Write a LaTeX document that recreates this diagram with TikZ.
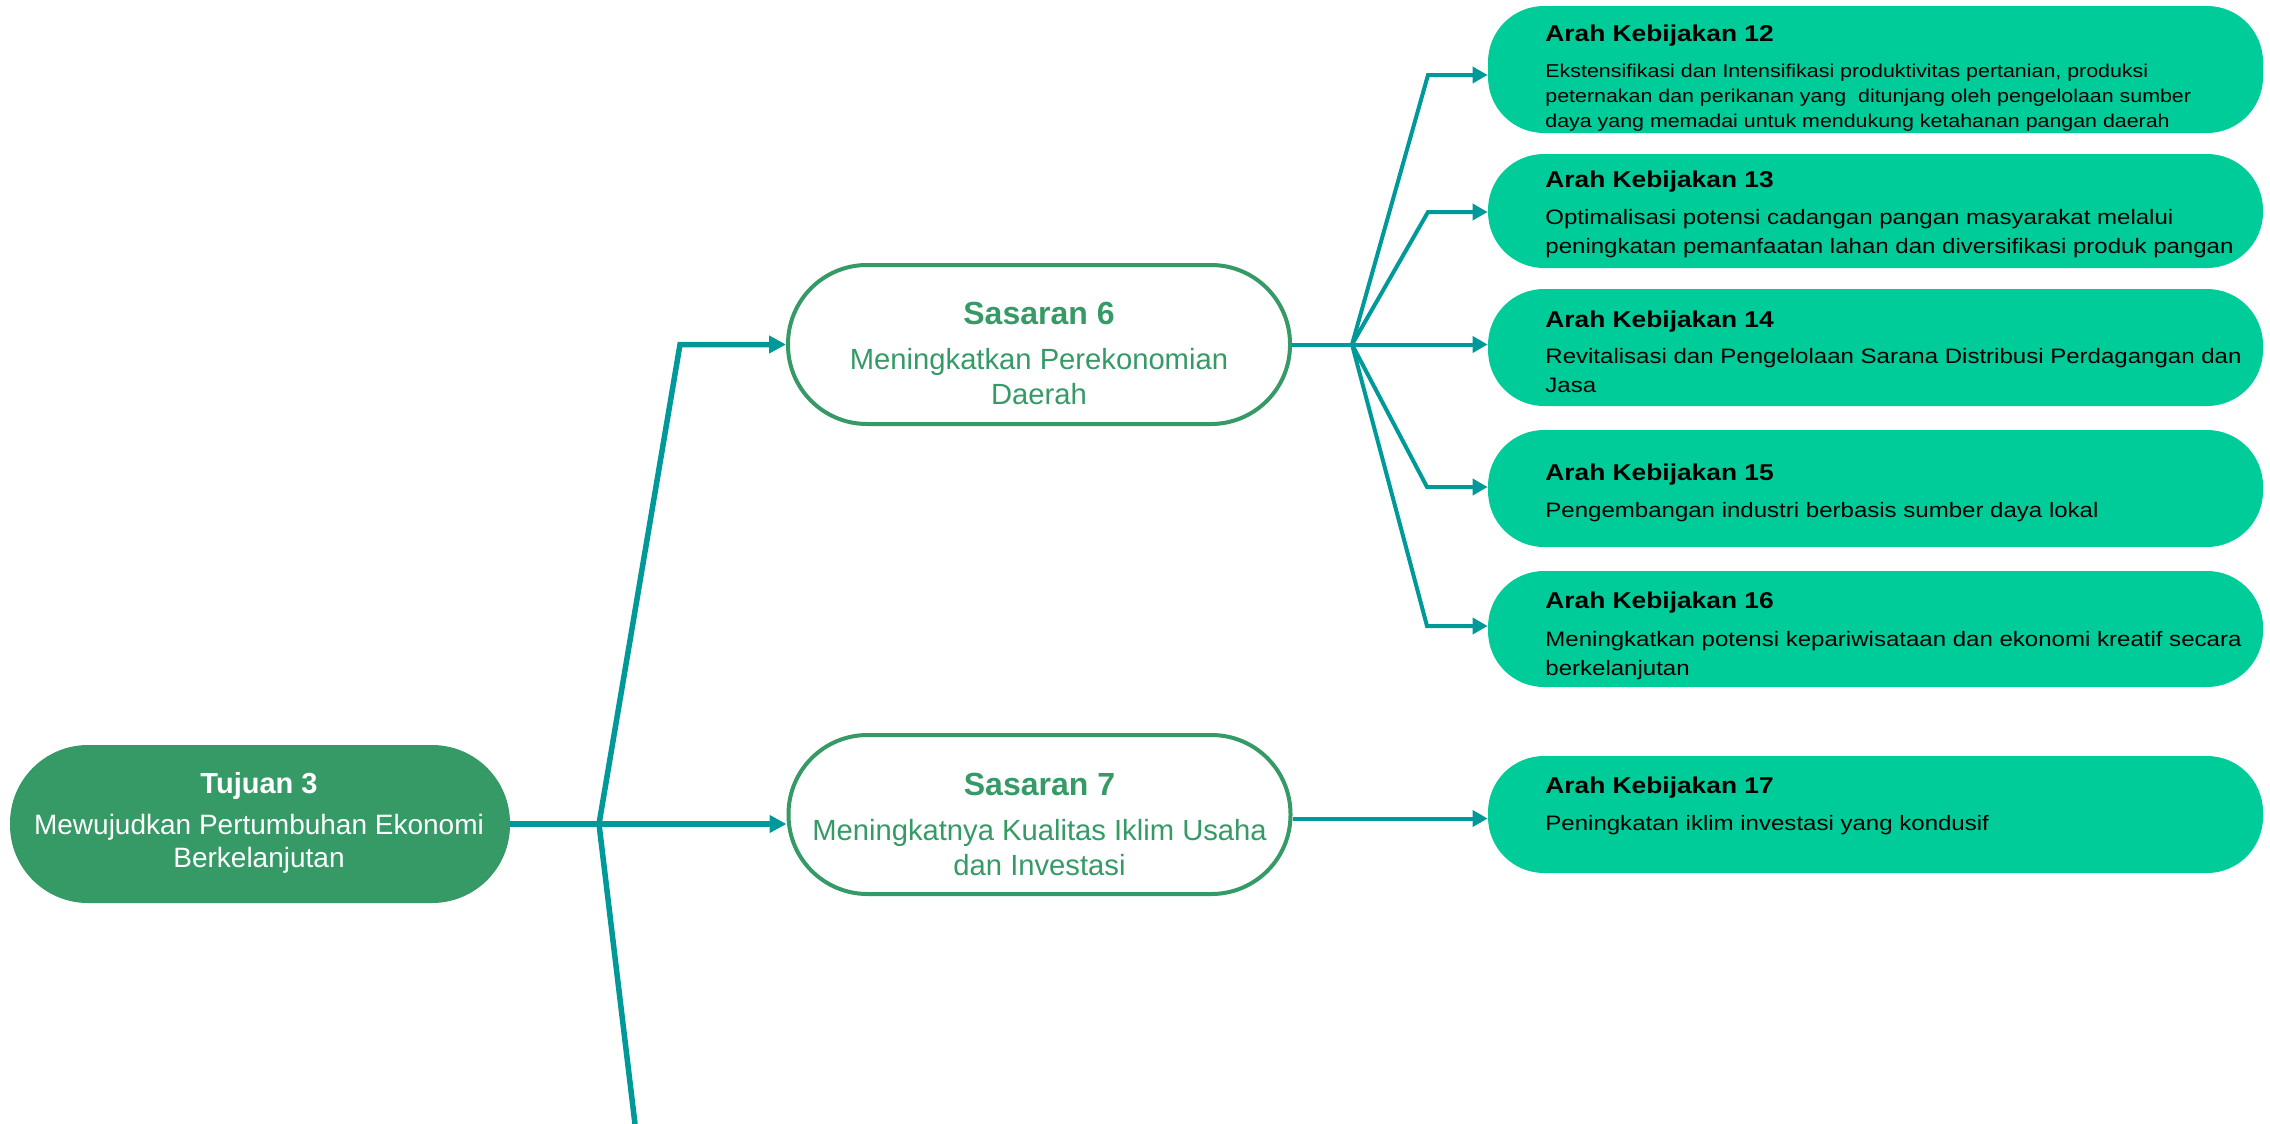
\documentclass[tikz,border=0pt]{standalone}
\usepackage{fontspec}
\setmainfont{Liberation Sans}
\newfontfamily\arahfont[FakeStretch=1.15]{Liberation Sans}
\usetikzlibrary{arrows.meta}
\definecolor{tgreen}{RGB}{53,154,102}
\definecolor{pgreen}{RGB}{0,204,153}
\definecolor{lteal}{RGB}{0,153,153}
\newcommand\cstack[2]{\vtop{\baselineskip=#1\lineskiplimit=-\maxdimen\lineskip=0pt\halign{\hfil##\hfil\cr#2\crcr}}}
\newcommand\lstack[2]{\vtop{\baselineskip=#1\lineskiplimit=-\maxdimen\lineskip=0pt\halign{##\hfil\cr#2\crcr}}}
\begin{document}
\begin{tikzpicture}[x=0.5pt,y=-0.5pt,
  goalbox/.style={fill=tgreen, rounded corners=39pt, minimum width=250pt, minimum height=79pt, inner sep=0pt},
  targetbox/.style={draw=tgreen, line width=2pt, fill=white, rounded corners=39.5pt, minimum width=251pt, minimum height=79.5pt, inner sep=0pt},
  policybox/.style={fill=pgreen, rounded corners=28pt, minimum width=387.5pt, minimum height=#1, inner sep=0pt},
  ctxt/.style={inner sep=0pt, anchor=base},
  ltxt/.style={inner sep=0pt, anchor=base west},
  goaltitle/.style={ctxt, text=white, font=\fontsize{14.5pt}{17pt}\selectfont\bfseries},
  goalbody/.style={ctxt, text=white, font=\fontsize{14pt}{16.5pt}\selectfont},
  targettitle/.style={ctxt, text=tgreen, font=\fontsize{16pt}{19pt}\selectfont\bfseries},
  targetbody/.style={ctxt, text=tgreen, font=\fontsize{14.6pt}{17.5pt}\selectfont},
  poltitle/.style={ltxt, text=black, font=\arahfont\bfseries\fontsize{11.45pt}{14pt}\selectfont},
  polbody/.style={ltxt, text=black, font=\arahfont\fontsize{10.45pt}{14.75pt}\selectfont},
  polbodysmall/.style={ltxt, text=black, font=\arahfont\fontsize{9.3pt}{12.5pt}\selectfont},
  trunk/.style={draw=lteal, line width=2.75pt},
  fan/.style={draw=lteal, line width=2pt},
  bigarrow/.style={-{Triangle[length=8.5pt,width=8.5pt]}},
  smallarrow/.style={-{Triangle[length=7.5pt,width=8pt]}}
]
\useasboundingbox[fill=white] (0,0) rectangle (2270,1124);

% Goal
\node[goalbox] (t3) at (260,824) {};
\node[goaltitle] (t3title) at (259,793) {Tujuan 3};
\node[goalbody] (t3body) at (259,834) {\cstack{16.5pt}{Mewujudkan Pertumbuhan Ekonomi\cr Berkelanjutan}};

% Targets
\node[targetbox] (s6) at (1039,344.5) {};
\node[targettitle] (s6title) at (1039,324) {Sasaran 6};
\node[targetbody] (s6body) at (1039,369) {\cstack{17.5pt}{Meningkatkan Perekonomian\cr Daerah}};

\node[targetbox] (s7) at (1039.5,814.5) {};
\node[targettitle] (s7title) at (1039.5,795) {Sasaran 7};
\node[targetbody] (s7body) at (1039.5,840) {\cstack{17.5pt}{Meningkatnya Kualitas Iklim Usaha\cr dan Investasi}};

% Policies
\node[policybox=63.5pt] (a12) at (1875.5,69.5) {};
\node[poltitle] (a12title) at (1545,41) {Arah Kebijakan 12};
\node[polbodysmall] (a12body) at (1545,77) {\lstack{12.5pt}{Ekstensifikasi dan Intensifikasi produktivitas pertanian, produksi\cr peternakan dan perikanan yang\ \ ditunjang oleh pengelolaan sumber\cr daya yang memadai untuk mendukung ketahanan pangan daerah}};

\node[policybox=57pt] (a13) at (1875.5,211) {};
\node[poltitle] (a13title) at (1545,187) {Arah Kebijakan 13};
\node[polbody] (a13body) at (1545,224) {\lstack{14.75pt}{Optimalisasi potensi cadangan pangan masyarakat melalui\cr peningkatan pemanfaatan lahan dan diversifikasi produk pangan}};

\node[policybox=58.5pt] (a14) at (1875.5,347.5) {};
\node[poltitle] (a14title) at (1545,327) {Arah Kebijakan 14};
\node[polbody] (a14body) at (1545,363) {\lstack{14.75pt}{Revitalisasi dan Pengelolaan Sarana Distribusi Perdagangan dan\cr Jasa}};

\node[policybox=58.5pt] (a15) at (1875.5,488.5) {};
\node[poltitle] (a15title) at (1545,480) {Arah Kebijakan 15};
\node[polbody] (a15body) at (1545,517) {Pengembangan industri berbasis sumber daya lokal};

\node[policybox=58pt] (a16) at (1875.5,629) {};
\node[poltitle] (a16title) at (1545,608) {Arah Kebijakan 16};
\node[polbody] (a16body) at (1545,646) {\lstack{14.5pt}{Meningkatkan potensi kepariwisataan dan ekonomi kreatif secara\cr berkelanjutan}};

\node[policybox=58.5pt] (a17) at (1875.5,814.5) {};
\node[poltitle] (a17title) at (1545,793) {Arah Kebijakan 17};
\node[polbody] (a17body) at (1545,830) {Peningkatan iklim investasi yang kondusif};

% Connector points
\coordinate (J) at (599,824);
\coordinate (k6) at (680,344.5);
\coordinate (bot) at (635,1124);
\coordinate (F) at (1352,344.5);
\coordinate (k12) at (1428,75);
\coordinate (k13) at (1428,212);
\coordinate (k15) at (1427,487);
\coordinate (k16) at (1427,626);
\coordinate (s7out) at ([yshift=-2pt]s7.east);

% Trunk connectors
\draw[trunk,bigarrow] (t3.east) -- (s7.west |- t3.east);
\draw[trunk,bigarrow] (J) -- (k6) -- (s6.west);
\draw[trunk] (J) -- (bot);

% Fan from Sasaran 6
\draw[fan] (s6.east) -- (F);
\draw[fan,smallarrow] (F) -- (k12) -- (k12 -| a12.west);
\draw[fan,smallarrow] (F) -- (k13) -- (k13 -| a13.west);
\draw[fan,smallarrow] (F) -- (F -| a14.west);
\draw[fan,smallarrow] (F) -- (k15) -- (k15 -| a15.west);
\draw[fan,smallarrow] (F) -- (k16) -- (k16 -| a16.west);

% Sasaran 7 to Arah 17
\draw[fan,smallarrow] (s7out) -- (s7out -| a17.west);
\end{tikzpicture}
\end{document}
